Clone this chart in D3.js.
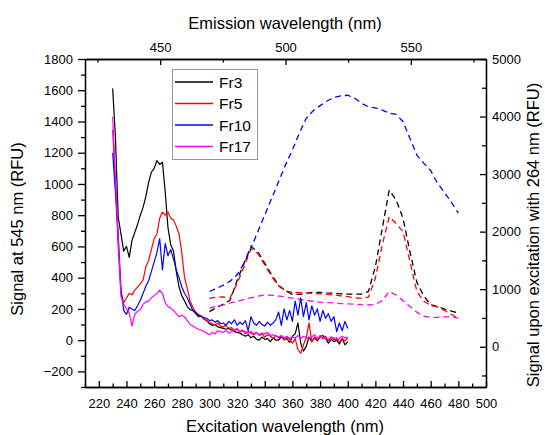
<!DOCTYPE html>
<html>
<head>
<meta charset="utf-8">
<script src="https://cdn.jsdelivr.net/npm/d3@7/dist/d3.min.js"></script>
<style>
  body { margin: 0; background: #fff; }
  svg text { font-family: "Liberation Sans", Arial, Helvetica, sans-serif; fill: #000; }
</style>
</head>
<body>
<svg id="chart" width="545" height="435"></svg>
<script>
// Excitation scans (left axis), sampled every 2 nm from 230 to 400 nm
const excitationNm = d3.range(230, 401, 2);
const fr3Excitation = [
  1612, 1300, 790, 680, 570, 600, 530, 640, 690, 740,
  800, 850, 920, 1010, 1075, 1100, 1150, 1125, 1140, 950,
  720, 610, 570, 440, 340, 285, 250, 215, 195, 190,
  170, 150, 155, 135, 125, 105, 95, 100, 85, 80,
  75, 70, 75, 65, 55, 50, 45, 35, 25, 35,
  15, 25, 5, 0, 20, 5, 10, -10, 15, 0,
  0, 20, 5, 10, -15, 25, 40, 110, -20, -70,
  -40, 20, -10, 15, -5, 20, 30, 10, -20, 5,
  -10, 0, -25, 10, -30, -10
];
const fr5Excitation = [
  1345, 1000, 600, 300, 240, 270, 300, 290, 320, 340,
  360, 385, 470, 510, 580, 650, 680, 780, 820, 800,
  820, 780, 770, 730, 680, 560, 400, 330, 250, 210,
  180, 165, 155, 140, 125, 115, 105, 95, 110, 90,
  85, 95, 75, 80, 60, 70, 55, 65, 40, 55,
  45, 35, 50, 30, 40, 20, 35, 25, 10, 30,
  15, 25, 0, 20, 5, -20, 10, -60, -85, -30,
  15, 110, -10, 20, 0, 30, 10, 25, -5, 20,
  0, 15, -15, 10, -5, 15
];
const fr10Excitation = [
  1200, 950, 680, 330, 190, 165, 210, 200, 190, 220,
  255, 300, 345, 380, 440, 500, 560, 650, 450, 620,
  540, 580, 520, 450, 400, 340, 300, 270, 230, 190,
  175, 160, 150, 145, 140, 125, 130, 115, 125, 105,
  110, 95, 120, 105, 130, 95, 115, 100, 125, 60,
  150, 110, 95, 120, 100, 90, 115, 95, 110, 130,
  180, 95, 200, 130, 190, 120, 250, 160, 270, 150,
  240, 130, 220, 160, 200, 120, 190, 140, 170, 120,
  150, 55, 110, 60, 120, 75
];
const fr17Excitation = [
  1430, 1050, 650, 280, 230, 200, 175, 90, 165, 185,
  195, 230, 245, 250, 270, 285, 300, 320, 300, 240,
  215, 205, 190, 170, 150, 160, 150, 125, 100, 90,
  80, 70, 65, 55, 45, 35, 50, 40, 60, 55,
  50, 60, 45, 55, 65, 75, 50, 60, 55, 45,
  55, 40, 50, 35, 45, 40, 50, 30, 35, 25,
  20, 30, 15, 25, 10, 20, 15, 30, 10, 25,
  15, 5, 20, 35, 10, 25, 15, 10, 5, 20,
  15, 5, 10, 25, 15, 20
];

// Emission signal with 264 nm excitation (right axis), every 5 nm from 300 to 480
const emissionNm = d3.range(300, 481, 5);
const fr3Emission = [
  610, 680, 740, 810, 1150, 1450, 1740, 1650, 1450, 1250,
  1070, 970, 910, 910, 930, 945, 945, 935, 930, 920,
  915, 915, 915, 960, 1390, 2060, 2720, 2550, 2230, 1650,
  1120, 880, 730, 700, 655, 620, 585
];
const fr5Emission = [
  840, 860, 865, 850, 1100, 1390, 1700, 1620, 1420, 1220,
  1055, 970, 945, 940, 935, 925, 920, 910, 900, 885,
  870, 850, 840, 860, 1190, 1770, 2260, 2140, 2000, 1480,
  960, 790, 720, 690, 630, 560, 490
];
const fr10Emission = [
  960, 1010, 1070, 1140, 1250, 1450, 1710, 2000, 2290, 2580,
  2870, 3160, 3420, 3710, 3970, 4100, 4190, 4270, 4330, 4360,
  4370, 4320, 4230, 4170, 4150, 4110, 4060, 4040, 3910, 3620,
  3330, 3190, 3060, 2840, 2680, 2510, 2320
];
const fr17Emission = [
  670, 700, 725, 760, 790, 820, 850, 880, 900, 895,
  880, 865, 845, 825, 805, 790, 775, 765, 760, 750,
  745, 740, 730, 725, 735, 800, 960, 900, 800, 700,
  600, 530, 510, 510, 518, 520, 495
];

const seriesNames = ["Fr3", "Fr5", "Fr10", "Fr17"];
const seriesColors = ["#000000", "#ff0000", "#0000ff", "#ff00ff"];

// Tick values
const bottomMajor = d3.range(220, 501, 20);
const bottomMinor = d3.range(210, 500, 20);
const topMajor = [450, 500, 550];
const topMinor = [425, 475, 525, 575];
const leftMajor = d3.range(-200, 1801, 200);
const leftMinor = d3.range(-300, 1801, 200);
const rightMajor = d3.range(0, 5001, 1000);
const rightMinor = d3.range(-500, 5000, 1000);

const svg = d3.select("#chart");
const L = 85, R = 486, T = 59, B = 387;
const plain = d3.format("d");

const x = d3.scaleLinear().domain([210, 500]).range([L, R]);
const xTop = d3.scaleLinear().domain([420, 580]).range([L, R]);
const yL = d3.scaleLinear().domain([-300, 1800]).range([B, T]);
const yR = d3.scaleLinear().domain([-700, 5000]).range([B, T]);

// Dashed emission curves
const emSets = [fr3Emission, fr5Emission, fr10Emission, fr17Emission];
const emLine = d3.line().x(d => x(d[0])).y(d => yR(d[1]));
emSets.forEach((vals, i) => {
  svg.append("path")
    .datum(emissionNm.map((w, k) => [w, vals[k]]))
    .attr("d", emLine)
    .attr("fill", "none")
    .attr("stroke", seriesColors[i])
    .attr("stroke-width", 1.3)
    .attr("stroke-dasharray", "6,4");
});

// Solid excitation curves
const exSets = [fr3Excitation, fr5Excitation, fr10Excitation, fr17Excitation];
const exLine = d3.line().x(d => x(d[0])).y(d => yL(d[1]));
exSets.forEach((vals, i) => {
  svg.append("path")
    .datum(excitationNm.map((w, k) => [w, vals[k]]))
    .attr("d", exLine)
    .attr("fill", "none")
    .attr("stroke", seriesColors[i])
    .attr("stroke-width", 1.2)
    .attr("stroke-linejoin", "round");
});

// Axes
function styleAxis(g) {
  g.attr("font-size", null).attr("font-family", null);
  g.selectAll("path.domain").attr("stroke", "#000").attr("stroke-width", 1.3);
  g.selectAll(".tick line").attr("stroke", "#000").attr("stroke-width", 1.3);
  g.selectAll(".tick text").style("font-size", "13px");
}

svg.append("g").attr("transform", `translate(0,${B})`)
  .call(d3.axisBottom(x).tickValues(bottomMajor).tickFormat(plain).tickSizeInner(-6).tickSizeOuter(0).tickPadding(12))
  .call(styleAxis);
svg.append("g").attr("transform", `translate(0,${B})`)
  .call(d3.axisBottom(x).tickValues(bottomMinor).tickSizeInner(-3.5).tickSizeOuter(0).tickFormat(""))
  .call(styleAxis);

svg.append("g").attr("transform", `translate(0,${T})`)
  .call(d3.axisTop(xTop).tickValues(topMajor).tickFormat(plain).tickSizeInner(-6).tickSizeOuter(0).tickPadding(7))
  .call(styleAxis);
svg.append("g").attr("transform", `translate(0,${T})`)
  .call(d3.axisTop(xTop).tickValues(topMinor).tickSizeInner(-3.5).tickSizeOuter(0).tickFormat(""))
  .call(styleAxis);

svg.append("g").attr("transform", `translate(${L},0)`)
  .call(d3.axisLeft(yL).tickValues(leftMajor).tickFormat(plain).tickSizeInner(7).tickSizeOuter(0).tickPadding(5))
  .call(styleAxis);
svg.append("g").attr("transform", `translate(${L},0)`)
  .call(d3.axisLeft(yL).tickValues(leftMinor).tickSizeInner(4).tickSizeOuter(0).tickFormat(""))
  .call(styleAxis);

svg.append("g").attr("transform", `translate(${R},0)`)
  .call(d3.axisRight(yR).tickValues(rightMajor).tickFormat(plain).tickSizeInner(-6).tickSizeOuter(0).tickPadding(6))
  .call(styleAxis);
svg.append("g").attr("transform", `translate(${R},0)`)
  .call(d3.axisRight(yR).tickValues(rightMinor).tickSizeInner(-4).tickSizeOuter(0).tickFormat(""))
  .call(styleAxis);

// Axis titles
svg.append("text").attr("x", 285).attr("y", 29).attr("text-anchor", "middle")
  .style("font-size", "16.5px").text("Emission wavelength (nm)");
svg.append("text").attr("x", 285).attr("y", 432).attr("text-anchor", "middle")
  .style("font-size", "16.5px").text("Excitation wavelength (nm)");
svg.append("text").attr("transform", "translate(17,229) rotate(-90)").attr("dy", "0.35em")
  .attr("text-anchor", "middle").style("font-size", "16.5px").text("Signal at 545 nm (RFU)");
svg.append("text").attr("transform", "translate(533,235) rotate(-90)").attr("dy", "0.35em")
  .attr("text-anchor", "middle").style("font-size", "16.5px").text("Signal upon excitation with 264 nm (RFU)");

// Legend
const lg = svg.append("g");
lg.append("rect").attr("x", 172.5).attr("y", 69.5).attr("width", 85).attr("height", 90)
  .attr("fill", "#fff").attr("stroke", "#999").attr("stroke-width", 1);
seriesNames.forEach((name, i) => {
  const yy = 82 + i * 21.5;
  lg.append("line").attr("x1", 175).attr("x2", 213).attr("y1", yy).attr("y2", yy)
    .attr("stroke", seriesColors[i]).attr("stroke-width", 1.5);
  lg.append("text").attr("x", 219).attr("y", yy).attr("dy", "0.36em")
    .style("font-size", "15.5px").text(name);
});
</script>
</body>
</html>
